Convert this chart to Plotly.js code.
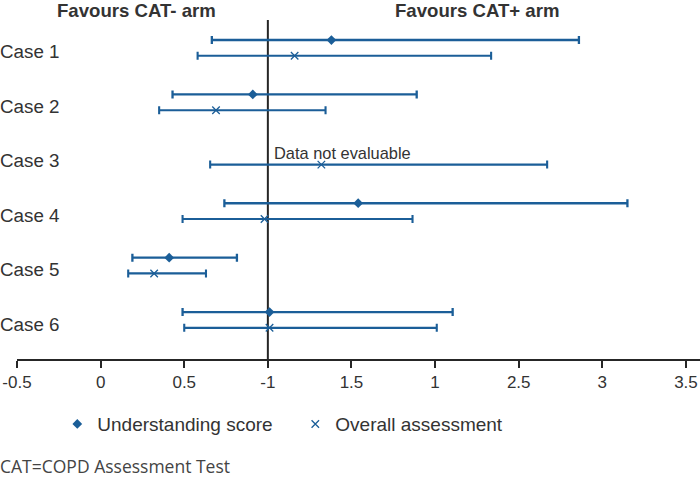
<!DOCTYPE html>
<html>
<head>
<meta charset="utf-8">
<script src="https://cdn.plot.ly/plotly-3.0.1.min.js"></script>
<style>html,body{margin:0;padding:0;background:#fff;}#chart{width:700px;height:478px;}</style>
</head>
<body>
<div id="chart"></div>
<script>
// ---- data ----
const cases = ["Case 1", "Case 2", "Case 3", "Case 4", "Case 5", "Case 6"];
const understanding = [1.38, 0.91, null, 1.54, 0.41, 1.01];
const understandingLow = [0.665, 0.43, null, 0.74, 0.19, 0.49];
const understandingHigh = [2.86, 1.89, null, 3.15, 0.815, 2.105];
const overall = [1.16, 0.69, 1.32, 0.98, 0.32, 1.01];
const overallLow = [0.58, 0.35, 0.655, 0.49, 0.165, 0.50];
const overallHigh = [2.335, 1.345, 2.67, 1.865, 0.63, 2.01];
const tickVals = [-0.5, 0, 0.5, 1, 1.5, 2, 2.5, 3, 3.5];
const tickText = ["-0.5", "0", "0.5", "-1", "1.5", "1", "2.5", "3", "3.5"];
const seriesNames = ["Understanding score", "Overall assessment"];
const noteText = "Data not evaluable";
const leftHeader = "Favours CAT- arm";
const rightHeader = "Favours CAT+ arm";
const footnote = "CAT=COPD Assessment Test";

const blue = "#1b5e98";
const dark = "#262626";
const idx = cases.map((c, i) => i + 1);
const yU = idx.map(v => v - 0.22);
const yO = idx.map(v => v + 0.07);

const tU = {
  type: "scatter", mode: "markers", name: seriesNames[0],
  x: understanding, y: yU,
  marker: {symbol: "diamond", size: 7.5, color: blue},
  error_x: {type: "data", symmetric: false,
    array: understanding.map((v, i) => v == null ? null : understandingHigh[i] - v),
    arrayminus: understanding.map((v, i) => v == null ? null : v - understandingLow[i]),
    color: blue, thickness: 2.3, width: 4},
  cliponaxis: false
};
const tO = {
  type: "scatter", mode: "markers", name: seriesNames[1],
  x: overall, y: yO,
  marker: {symbol: "x-thin", size: 7.5, color: blue, line: {width: 1.3, color: blue}},
  error_x: {type: "data", symmetric: false,
    array: overall.map((v, i) => overallHigh[i] - v),
    arrayminus: overall.map((v, i) => v - overallLow[i]),
    color: blue, thickness: 2.1, width: 4},
  cliponaxis: false
};

const L = 17, W = 700, plotW = W - L;
const annotations = cases.map((c, i) => ({
  text: c, xref: "paper", yref: "y", x: -L / plotW, y: i + 1, xanchor: "left", yanchor: "middle",
  xshift: -2, showarrow: false, font: {family: "Liberation Sans, Arial, sans-serif", size: 18.8, color: "#333"}
}));
annotations.push({text: noteText, xref: "x", yref: "y", x: 1, y: 3 - 0.15, xanchor: "left", yanchor: "middle",
  xshift: 4, showarrow: false, font: {family: "Liberation Sans, Arial, sans-serif", size: 16.4, color: "#333"}});
annotations.push({text: "<b>" + leftHeader + "</b>", xref: "x", yref: "paper", x: 0.2165, y: 1.029,
  xanchor: "center", yanchor: "middle", showarrow: false,
  font: {family: "Liberation Sans, Arial, sans-serif", size: 18.6, color: "#333"}});
annotations.push({text: "<b>" + rightHeader + "</b>", xref: "x", yref: "paper", x: 2.25, y: 1.029,
  xanchor: "center", yanchor: "middle", showarrow: false,
  font: {family: "Liberation Sans, Arial, sans-serif", size: 18.6, color: "#333"}});
annotations.push({text: footnote, xref: "paper", yref: "paper", x: -L / plotW, y: -0.316,
  xanchor: "left", yanchor: "middle", xshift: -2, showarrow: false,
  font: {family: "Open Sans, sans-serif", size: 17.5, color: "#444"}});

const layout = {
  width: 700, height: 478,
  margin: {l: L, r: 0, t: 20, b: 119},
  paper_bgcolor: "#fff", plot_bgcolor: "#fff",
  showlegend: true,
  legend: {orientation: "h", x: 0.059, xanchor: "left", y: -0.192, yanchor: "middle",
    font: {family: "Liberation Sans, Arial, sans-serif", size: 19, color: "#333"},
    itemwidth: 30, entrywidth: 193, entrywidthmode: "pixels", bgcolor: "rgba(0,0,0,0)"},
  xaxis: {range: [-0.5, 3.584], tickvals: tickVals, ticktext: tickText,
    showline: true, linecolor: dark, linewidth: 2, ticks: "outside", ticklen: 7, tickwidth: 2,
    tickcolor: dark, showgrid: false, zeroline: false, fixedrange: true,
    tickfont: {family: "Liberation Sans, Arial, sans-serif", size: 17, color: "#333"}},
  yaxis: {range: [6.643, 0.412], showticklabels: false, showgrid: false, zeroline: false,
    showline: false, ticks: "", fixedrange: true},
  shapes: [{type: "line", xref: "x", yref: "paper", x0: 1, x1: 1, y0: 0, y1: 1,
    line: {color: dark, width: 2}, layer: "below"}],
  annotations: annotations
};

Plotly.newPlot("chart", [tU, tO], layout, {displayModeBar: false, staticPlot: true});
</script>
</body>
</html>
